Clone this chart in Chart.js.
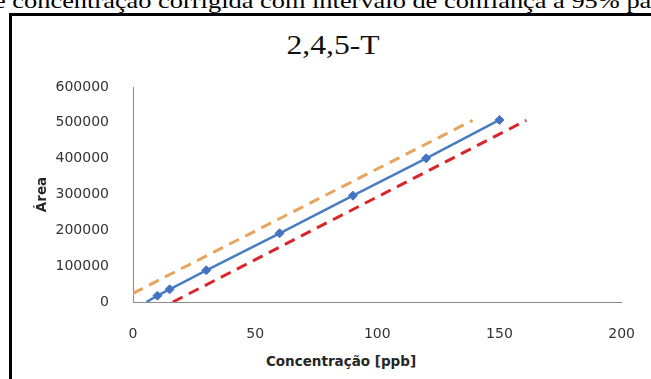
<!DOCTYPE html>
<html>
<head>
<meta charset="utf-8">
<script src="https://cdn.jsdelivr.net/npm/chart.js@4.4.1/dist/chart.umd.min.js"></script>
<style>
  html, body { margin: 0; padding: 0; background: #fff; width: 651px; height: 379px; overflow: hidden; position: relative; }
  #frame { position: absolute; left: 9px; top: 13px; width: 700px; height: 420px; border: 3px solid #000; box-sizing: border-box; }
  #caption { position: absolute; top: -9px; left: 0; white-space: nowrap; font-family: "Liberation Serif", serif; font-size: 21px; line-height: 21px; color: #000; transform-origin: 0 0; }
  #title { position: absolute; left: 333px; top: 31px; white-space: nowrap; font-family: "Liberation Serif", serif; font-size: 28px; line-height: 28px; color: #111; transform: translateX(-50%) scaleX(1.13); }
  #xtitle { position: absolute; left: 341px; top: 352px; white-space: nowrap; font-family: "DejaVu Sans", sans-serif; font-weight: bold; font-size: 13.5px; line-height: 18px; color: #262626; transform: translateX(-50%); }
  #chart { position: absolute; left: 0; top: 0; }
</style>
</head>
<body>
<div id="caption">e concentração corrigida com intervalo de confiança a 95% pa</div>
<div id="frame"></div>
<div id="title">2,4,5-T</div>
<div id="xtitle">Concentração [ppb]</div>
<canvas id="chart" width="651" height="379"></canvas>
<script>
// Calibration points: concentration (ppb) vs. peak area
const concentracao = [5.5, 10, 15, 30, 60, 90, 120, 150];
const area = [0, 17600, 35400, 88500, 191700, 296700, 401000, 508000];

// Upper and lower 95% confidence limits
const limSupX = [0, 139];
const limSupY = [24300, 507000];
const limInfX = [16.3, 161];
const limInfY = [0, 507000];

// Axis tick labels
const xTickLabels = ['0', '50', '100', '150', '200'];
const yTickLabels = ['0', '100000', '200000', '300000', '400000', '500000', '600000'];

const toPoints = (xs, ys) => xs.map((x, i) => ({ x: x, y: ys[i] }));

// Fit the caption line across the page width
(function () {
  const cap = document.getElementById('caption');
  const c = document.createElement('canvas').getContext('2d');
  c.font = '21px "Liberation Serif"';
  const full = c.measureText(cap.textContent).width;
  const lead = c.measureText('e ').width;
  const sx = (651 - 12) / (full - lead);
  cap.style.transform = 'scaleX(' + sx + ')';
  cap.style.left = (12 - lead * sx) + 'px';
})();

Chart.defaults.font.family = '"DejaVu Sans", sans-serif';

new Chart(document.getElementById('chart'), {
  type: 'scatter',
  data: {
    datasets: [
      {
        label: 'Área',
        data: toPoints(concentracao, area),
        showLine: true,
        borderColor: '#4a7cc2',
        backgroundColor: '#4472c4',
        borderWidth: 2.5,
        pointStyle: 'rectRot',
        pointRadius: ctx => (ctx.dataIndex === 0 ? 0 : 4.5),
        pointBorderWidth: 1,
        pointBorderColor: '#4472c4'
      },
      {
        label: 'Limite superior',
        data: toPoints(limSupX, limSupY),
        showLine: true,
        borderColor: '#e6a45e',
        borderWidth: 3,
        borderDash: [11, 7],
        pointRadius: 0
      },
      {
        label: 'Limite inferior',
        data: toPoints(limInfX, limInfY),
        showLine: true,
        borderColor: '#da252b',
        borderWidth: 3,
        borderDash: [11, 7],
        pointRadius: 0
      }
    ]
  },
  options: {
    responsive: false,
    animation: false,
    devicePixelRatio: 1,
    layout: { padding: { top: 87, right: 20, bottom: 0, left: 0 } },
    plugins: { legend: { display: false }, tooltip: { enabled: false }, title: { display: false } },
    scales: {
      x: {
        type: 'linear',
        min: 0,
        max: 200,
        grid: { display: false },
        border: { display: true, color: '#8a8a8a', width: 1 },
        ticks: {
          stepSize: 50,
          padding: 16,
          color: '#333',
          font: { size: 14 },
          callback: (v, i) => xTickLabels[i]
        },
        afterFit: s => { s.height = 77; }
      },
      y: {
        type: 'linear',
        min: 0,
        max: 600000,
        grid: { display: false },
        border: { display: true, color: '#8a8a8a', width: 1 },
        ticks: {
          stepSize: 100000,
          padding: 16,
          color: '#333',
          font: { size: 14 },
          callback: (v, i) => yTickLabels[i]
        },
        title: {
          display: true,
          text: 'Área',
          color: '#262626',
          font: { size: 13.5, weight: 'bold' },
          padding: { top: 34, bottom: 0 }
        },
        afterFit: s => { s.width = 133; }
      }
    }
  }
});
</script>
</body>
</html>
